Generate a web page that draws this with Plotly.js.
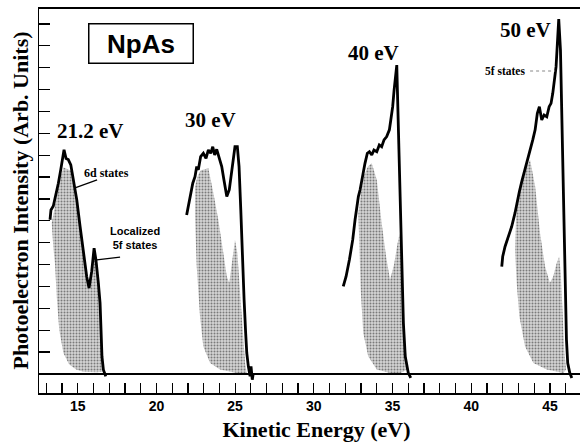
<!DOCTYPE html>
<html>
<head>
<meta charset="utf-8">
<script src="https://cdn.plot.ly/plotly-3.0.1.min.js"></script>
<style>
html, body { margin: 0; padding: 0; overflow: hidden; background: #fff; }
#chart { width: 594px; height: 447px; }
</style>
</head>
<body>
<div id="chart"></div>
<script>
// ---- Data (kinetic energy in eV, intensity in arb. units) ----
// 21.2 eV photon energy: total spectrum and shaded (6d + localized 5f) component outline
const energy212 = [13.24, 13.30, 13.45, 13.62, 13.77, 13.92, 14.05, 14.13, 14.26, 14.40, 14.56, 14.72, 14.94, 15.15, 15.36, 15.57, 15.72, 15.89, 16.04, 16.16, 16.31, 16.42, 16.48, 16.54, 16.63, 16.78];
const intensity212 = [7.05, 7.50, 7.68, 8.19, 8.72, 9.33, 9.95, 10.25, 9.85, 9.80, 9.56, 8.87, 7.96, 6.74, 5.53, 4.46, 3.93, 4.70, 5.75, 5.20, 4.16, 3.24, 2.02, 0.80, 0.20, -0.11];
const shadeE212 = [13.35, 13.50, 13.65, 13.80, 13.95, 14.10, 14.20, 14.40, 14.56, 14.72, 14.94, 15.15, 15.36, 15.57, 15.72, 15.89, 16.04, 16.16, 16.31, 16.42, 16.48, 16.54, 16.60, 16.20, 15.36, 14.90, 14.45, 14.09, 13.83, 13.67, 13.56, 13.45, 13.35];
const shadeI212 = [6.90, 7.50, 8.10, 8.60, 9.10, 9.45, 9.40, 9.35, 9.30, 8.80, 7.90, 6.70, 5.50, 4.45, 3.95, 4.65, 5.70, 5.15, 4.10, 3.20, 2.00, 0.80, 0.10, 0.08, 0.10, 0.20, 0.45, 0.96, 2.00, 3.50, 5.00, 5.80, 6.90];

// 30 eV
const energy30 = [21.92, 22.03, 22.18, 22.31, 22.45, 22.56, 22.66, 22.81, 22.98, 23.15, 23.30, 23.45, 23.58, 23.70, 23.83, 24.00, 24.15, 24.29, 24.47, 24.63, 24.78, 24.89, 24.99, 25.14, 25.25, 25.36, 25.46, 25.57, 25.67, 25.74, 25.84, 25.95, 26.01, 26.09, 26.16];
const intensity30 = [7.27, 7.65, 8.11, 8.72, 9.02, 9.48, 9.33, 9.94, 10.09, 9.86, 10.24, 10.09, 10.39, 10.01, 10.27, 9.86, 9.48, 8.87, 8.11, 8.42, 9.18, 9.94, 10.39, 10.39, 9.48, 7.50, 5.22, 3.39, 1.87, 0.96, 0.35, -0.11, 0.35, -0.26, 0.05];
const shadeE30 = [22.45, 22.45, 22.60, 22.80, 23.00, 23.30, 23.62, 23.93, 24.25, 24.47, 24.63, 24.78, 24.99, 25.14, 25.31, 25.48, 25.63, 25.74, 25.10, 24.04, 23.41, 22.98, 22.77, 22.56, 22.45];
const shadeI30 = [7.20, 8.57, 9.00, 9.30, 9.35, 9.41, 8.26, 7.05, 5.53, 4.46, 4.16, 4.91, 6.13, 5.53, 3.70, 1.87, 0.50, 0.05, 0.05, 0.20, 0.50, 1.26, 2.63, 4.91, 7.20];

// 40 eV
const energy40 = [31.87, 32.05, 32.26, 32.47, 32.62, 32.73, 32.83, 32.94, 33.11, 33.25, 33.40, 33.53, 33.68, 33.82, 34.00, 34.16, 34.31, 34.46, 34.63, 34.80, 34.89, 35.01, 35.10, 35.20, 35.27, 35.31, 35.37, 35.45, 35.54, 35.62, 35.69, 35.81, 36.00, 36.16];
const intensity40 = [4.00, 4.46, 5.22, 6.13, 7.05, 7.65, 8.11, 8.42, 9.18, 9.63, 10.09, 10.16, 10.01, 10.24, 10.16, 10.47, 10.39, 10.70, 10.85, 11.16, 11.61, 12.22, 12.98, 13.74, 14.12, 12.98, 11.46, 9.00, 6.60, 4.40, 2.33, 0.80, 0.05, -0.18];
const shadeE40 = [32.83, 33.00, 33.20, 33.45, 33.68, 34.00, 34.31, 34.59, 34.84, 35.10, 35.30, 35.44, 35.58, 35.69, 35.79, 35.94, 35.50, 34.84, 34.00, 33.46, 33.14, 32.98, 32.89, 32.83];
const shadeI40 = [7.35, 8.30, 9.10, 9.50, 9.63, 8.87, 6.89, 5.37, 4.31, 5.00, 5.90, 6.40, 5.83, 3.85, 1.57, 0.20, 0.05, 0.05, 0.20, 0.80, 1.87, 3.85, 6.13, 7.35];

// 50 eV
const energy50 = [41.94, 42.00, 42.15, 42.36, 42.57, 42.78, 42.93, 43.06, 43.21, 43.42, 43.56, 43.74, 43.91, 44.06, 44.20, 44.33, 44.48, 44.63, 44.80, 44.95, 45.07, 45.18, 45.26, 45.39, 45.45, 45.51, 45.56, 45.67, 45.73, 45.79, 45.86, 45.92, 45.99, 46.05, 46.13, 46.26, 46.39];
const intensity50 = [4.91, 5.37, 5.83, 6.28, 6.74, 7.35, 7.96, 8.34, 8.79, 9.33, 9.79, 10.24, 10.70, 11.16, 11.92, 12.22, 11.61, 11.84, 11.76, 12.22, 12.37, 12.83, 13.29, 14.05, 14.81, 15.72, 16.22, 14.81, 12.53, 10.24, 7.96, 5.68, 3.39, 1.57, 0.50, 0.05, -0.18];
const shadeE50 = [43.06, 43.30, 43.55, 43.74, 44.06, 44.37, 44.69, 45.00, 45.21, 45.43, 45.58, 45.69, 45.81, 45.91, 46.02, 45.86, 44.80, 43.95, 43.42, 43.06, 42.89, 42.78, 42.85, 43.06];
const shadeI50 = [8.26, 8.90, 9.50, 9.79, 8.57, 6.44, 4.91, 4.16, 4.46, 5.07, 5.37, 4.61, 2.63, 1.11, 0.20, 0.05, 0.20, 0.50, 1.26, 2.63, 4.16, 5.68, 7.20, 8.26];

// Tick labels and texts
const xTickValues = [15, 20, 25, 30, 35, 40, 45];
const xTickLabels = ['15', '20', '25', '30', '35', '40', '45'];
const photonLabels = ['21.2 eV', '30 eV', '40 eV', '50 eV'];

// ---- Build traces ----
const shadeStyle = {
  type: 'scatter', mode: 'lines', fill: 'toself',
  line: {width: 0, color: 'rgba(0,0,0,0)'},
  fillcolor: '#b8b8b8',
  fillpattern: {shape: '.', bgcolor: '#d6d6d6', fgcolor: '#7a7a7a', size: 3, solidity: 0.35},
  hoverinfo: 'skip', showlegend: false
};
const lineStyle = {type: 'scatter', mode: 'lines', line: {color: '#000', width: 2.8}, showlegend: false};
const shades = [[shadeE212, shadeI212], [shadeE30, shadeI30], [shadeE40, shadeI40], [shadeE50, shadeI50]];
const spectra = [[energy212, intensity212], [energy30, intensity30], [energy40, intensity40], [energy50, intensity50]];
const traces = [];
shades.forEach(([x, y]) => traces.push(Object.assign({}, shadeStyle, {x: x, y: y})));
spectra.forEach(([x, y], i) => traces.push(Object.assign({}, lineStyle, {x: x, y: y, name: photonLabels[i]})));

const serif = 'Liberation Serif, Times New Roman, serif';
const sans = 'Liberation Sans, Arial, sans-serif';

const labelPos = [[15.78, 11.09], [23.41, 11.61], [33.82, 14.67], [43.42, 15.74]];
const annotations = photonLabels.map((t, i) => ({
  x: labelPos[i][0], y: labelPos[i][1], xref: 'x', yref: 'y',
  text: '<b>' + t + '</b>', showarrow: false,
  font: {family: serif, size: 21, color: '#000'}, xanchor: 'center', yanchor: 'middle'
}));
annotations.push({
  x: 18.99, y: 15.13, xref: 'x', yref: 'y', text: '<b>NpAs</b>', showarrow: false,
  font: {family: sans, size: 26, color: '#000'},
  bordercolor: '#000', borderwidth: 1.5, borderpad: 0, width: 103, height: 38,
  xanchor: 'center', yanchor: 'middle', align: 'center', valign: 'middle'
});
annotations.push({x: 16.83, y: 9.21, xref: 'x', yref: 'y', text: '<b>6d states</b>', showarrow: false,
  font: {family: serif, size: 12, color: '#000'}, xanchor: 'center', yanchor: 'middle'});
annotations.push({x: 18.67, y: 6.22, xref: 'x', yref: 'y', text: '<b>Localized<br>5f states</b>', showarrow: false,
  font: {family: sans, size: 11, color: '#000'}, xanchor: 'center', yanchor: 'middle', align: 'center'});
annotations.push({x: 42.15, y: 13.85, xref: 'x', yref: 'y', text: '<b>5f states</b>', showarrow: false,
  font: {family: serif, size: 11.5, color: '#000'}, xanchor: 'center', yanchor: 'middle'});

const shapes = [
  {type: 'line', xref: 'x', yref: 'y', x0: 16.23, y0: 8.87, x1: 14.83, y1: 8.51, line: {color: '#000', width: 1.3}},
  {type: 'line', xref: 'x', yref: 'y', x0: 17.69, y0: 5.34, x1: 16.21, y1: 5.22, line: {color: '#000', width: 1.3}},
  {type: 'line', xref: 'x', yref: 'y', x0: 43.74, y0: 13.85, x1: 45.33, y1: 13.85, line: {color: '#888', width: 1, dash: 'dot'}},
  // top frame line
  {type: 'line', xref: 'paper', yref: 'paper', x0: 0, y0: 1, x1: 1, y1: 1, line: {color: '#000', width: 2}}
];

const layout = {
  width: 594, height: 447,
  margin: {l: 39, r: 0, t: 8, b: 54, pad: 0},
  paper_bgcolor: '#fff', plot_bgcolor: '#fff',
  showlegend: false,
  xaxis: {
    range: [12.54, 47.80], showgrid: false, zeroline: false,
    showline: true, linecolor: '#000', linewidth: 1.5, mirror: true,
    ticks: 'inside', ticklen: 10, tickwidth: 1.2, tickcolor: '#000',
    tickmode: 'array', tickvals: xTickValues, ticktext: xTickLabels,
    minor: {dtick: 1, tick0: 0, ticks: 'inside', ticklen: 10, tickwidth: 1.2, tickcolor: '#000', showgrid: false},
    tickfont: {family: sans, size: 14, color: '#000', weight: 'bold'},
    title: {text: '<b>Kinetic Energy (eV)</b>', font: {family: serif, size: 22, color: '#000'}, standoff: 8}
  },
  yaxis: {
    range: [-0.87, 16.73], showgrid: false,
    zeroline: true, zerolinecolor: '#000', zerolinewidth: 1.5,
    showline: true, linecolor: '#000', linewidth: 1.5, mirror: false,
    ticks: 'inside', ticklen: 11, tickwidth: 1.2, tickcolor: '#000',
    dtick: 1, tick0: 0, showticklabels: false,
    title: {text: '<b>Photoelectron Intensity (Arb. Units)</b>', font: {family: serif, size: 22, color: '#000'}, standoff: 3}
  },
  annotations: annotations,
  shapes: shapes
};

Plotly.newPlot('chart', traces, layout, {staticPlot: true, displayModeBar: false});
</script>
</body>
</html>
